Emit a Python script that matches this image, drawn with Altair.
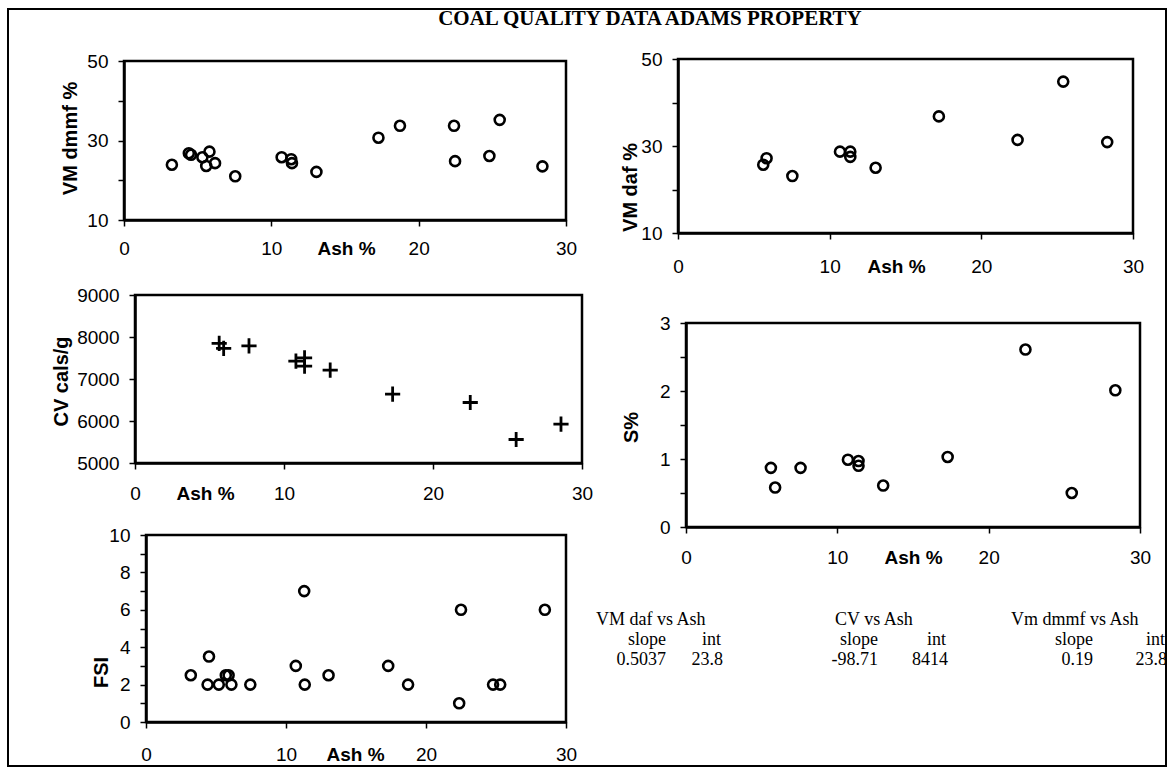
import altair as alt
import pandas as pd

# ---------------- data ----------------
ash_dmmf = [3.25, 4.4, 4.55, 5.32, 5.8, 5.58, 6.18, 7.55, 10.7, 11.35, 11.4, 13.06,
            17.27, 18.73, 22.4, 22.47, 24.8, 25.5, 28.4]
vm_dmmf = [23.9, 26.8, 26.4, 25.8, 27.2, 23.6, 24.3, 21.0, 25.8, 25.3, 24.3, 22.1,
           30.7, 33.7, 33.7, 24.8, 26.1, 35.2, 23.5]

ash_daf = [5.62, 5.84, 7.54, 10.68, 11.36, 11.36, 13.03, 17.2, 22.39, 25.4, 28.3]
vm_daf = [25.7, 27.2, 23.1, 28.7, 28.7, 27.5, 25.0, 36.8, 31.4, 44.8, 30.9]

ash_cv = [5.65, 5.95, 7.65, 10.8, 11.38, 11.38, 13.1, 17.29, 22.5, 25.58, 28.59]
cv = [7850, 7730, 7790, 7425, 7505, 7306, 7211, 6640, 6440, 5560, 5925]

ash_s = [5.61, 5.89, 7.57, 10.7, 11.4, 11.4, 13.03, 17.29, 22.43, 25.49, 28.37]
sulphur = [0.87, 0.58, 0.87, 0.99, 0.97, 0.90, 0.61, 1.03, 2.61, 0.50, 2.01]

ash_fsi = [3.2, 4.5, 4.4, 5.2, 5.7, 5.9, 6.1, 7.45, 10.7, 11.3, 11.34, 13.04,
           17.3, 18.72, 22.5, 22.37, 24.79, 25.3, 28.49]
fsi = [2.5, 3.5, 2, 2, 2.5, 2.5, 2, 2, 3, 7, 2, 2.5, 3, 2, 6, 1, 2, 2, 6]

chart_title = "COAL QUALITY DATA ADAMS PROPERTY"
x_title = "Ash %"
y_titles = ["VM dmmf %", "VM daf %", "CV cals/g", "S%", "FSI"]
table_headers = ["VM daf vs Ash", "CV vs Ash", "Vm dmmf vs Ash"]
table_slopes = ["0.5037", "-98.71", "0.19"]
table_ints = ["23.8", "8414", "23.8"]

# ---------------- layout / style ----------------
W, H = 1174, 771
SANS = "Liberation Sans"
SERIF = "Liberation Serif"
ONE = alt.Data(values=[{}])


def panel(ash, vals, xr, yr, ydom, yvals, label_expr, ytitle, ytitle_dx, ytitle_y,
          xtitle_x, label_pad, cross=False):
    df = pd.DataFrame({"ash": ash, "v": vals})
    xs = alt.Scale(domain=[0, 30], range=list(xr), nice=False, zero=False)
    ys = alt.Scale(domain=list(ydom), range=[yr[1], yr[0]], nice=False, zero=False)
    xaxis = alt.Axis(orient="bottom", offset=yr[1] - H, values=[0, 10, 20, 30],
                     title=x_title, titleX=xtitle_x, titleY=6 + label_pad,
                     titleBaseline="top", titleAlign="center", titleFont=SANS,
                     titleFontSize=19, titleFontWeight="bold", titleColor="black",
                     labelFont=SANS, labelFontSize=19, labelColor="black",
                     labelPadding=label_pad, labelFlush=False, labelOverlap=False,
                     tickSize=6, tickColor="black", tickWidth=1.5,
                     domainColor="black", domainWidth=2.5, grid=False)
    yaxis = alt.Axis(orient="left", offset=-xr[0], values=yvals, labelExpr=label_expr,
                     title=ytitle, titleX=ytitle_dx, titleY=ytitle_y, titleAngle=270,
                     titleAlign="center", titleBaseline="middle", titleFont=SANS,
                     titleFontSize=20, titleFontWeight="bold", titleColor="black",
                     labelFont=SANS, labelFontSize=19, labelColor="black",
                     labelPadding=10, labelOverlap=False, labelFlush=False,
                     tickSize=6, tickColor="black", tickWidth=1.5,
                     domainColor="black", domainWidth=2.5, grid=False)
    frame = alt.Chart(ONE).mark_rect(fill="transparent", stroke="black", strokeWidth=2.5).encode(
        x=alt.XDatum(0, type="quantitative", scale=xs, axis=None),
        x2=alt.X2Datum(30),
        y=alt.YDatum(ydom[0], type="quantitative", scale=ys, axis=None),
        y2=alt.Y2Datum(ydom[1]),
    )
    if cross:
        mk = alt.Chart(df).mark_point(shape="M-1,0H1M0,-1V1", filled=False, size=230,
                                      strokeWidth=2.8, color="black", opacity=1)
    else:
        mk = alt.Chart(df).mark_point(shape="circle", filled=False, size=100,
                                      strokeWidth=2.6, color="black", opacity=1)
    pts = mk.encode(
        x=alt.X("ash:Q", scale=xs, axis=xaxis),
        y=alt.Y("v:Q", scale=ys, axis=yaxis),
    )
    return [frame, pts]


def txt(s, x, y, align="left", size=18, weight="normal", font=SERIF):
    return alt.Chart(ONE).mark_text(text=s, align=align, baseline="alphabetic", font=font,
                                    fontSize=size, fontWeight=weight, color="black").encode(
        x=alt.value(x), y=alt.value(y))


layers = []
layers.append(alt.Chart(ONE).mark_rect(fill="transparent", stroke="black", strokeWidth=2).encode(
    x=alt.value(8), x2=alt.value(1166), y=alt.value(9), y2=alt.value(766)))
layers.append(txt(chart_title, 650, 25, align="center", size=21, weight="bold"))

layers += panel(ash_dmmf, vm_dmmf, (124, 566), (61, 220), (10, 50), [10, 20, 30, 40, 50],
                "datum.value % 20 == 10 ? datum.label : ''", y_titles[0], -54, 138, 346, 13)
layers += panel(ash_daf, vm_daf, (678, 1133), (59, 233), (10, 50), [10, 20, 30, 40, 50],
                "datum.value % 20 == 10 ? datum.label : ''", y_titles[1], -48, 187, 896, 18)
layers += panel(ash_cv, cv, (135, 582), (295, 463), (5000, 9000), [5000, 6000, 7000, 8000, 9000],
                "format(datum.value, 'd')", y_titles[2], -74, 381, 205, 15, cross=True)
layers += panel(ash_s, sulphur, (686, 1140), (323, 527), (0, 3), [0, 0.5, 1, 1.5, 2, 2.5, 3],
                "datum.value % 1 == 0 ? format(datum.value, 'd') : ''", y_titles[3], -55, 427, 913, 15)
layers += panel(ash_fsi, fsi, (146, 566), (535, 722), (0, 10), list(range(0, 11)),
                "datum.value % 2 == 0 ? datum.label : ''", y_titles[4], -45, 672, 355, 17)

# regression summary table
hdr_x = [596, 835, 1011]
slope_x = [666, 878, 1093]
int_x = [721, 946, 1165]
for i in range(3):
    layers.append(txt(table_headers[i], hdr_x[i], 625))
    layers.append(txt("slope", slope_x[i], 645, align="right"))
    layers.append(txt("int", int_x[i], 645, align="right"))
    layers.append(txt(table_slopes[i], slope_x[i], 665, align="right"))
    layers.append(txt(table_ints[i], int_x[i] + 2, 665, align="right"))

chart = alt.layer(*layers).resolve_scale(x="independent", y="independent").properties(
    width=W, height=H, autosize=alt.AutoSizeParams(type="none"), padding=0,
    background="white"
).configure_view(strokeWidth=0)

chart.save("out.html", embed_options={"renderer": "svg", "actions": False})
